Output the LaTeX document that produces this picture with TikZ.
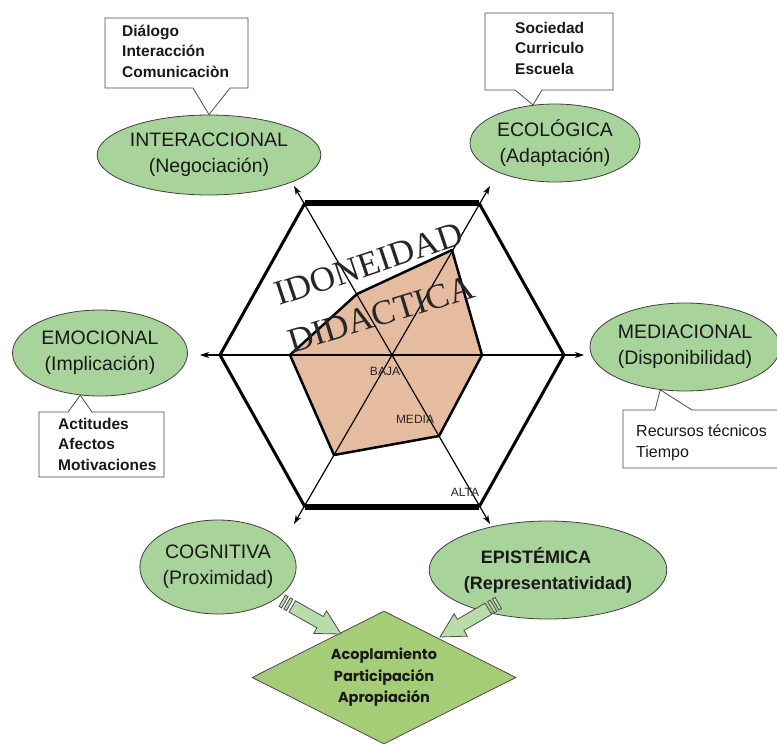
\documentclass[tikz,border=0pt]{standalone}
\usepackage{fontspec}
\setmainfont{Liberation Sans}
\newfontfamily\serifont{Liberation Serif}
\newfontfamily\popfont{Poppins}
\usetikzlibrary{shapes.geometric,arrows.meta,calc}
\definecolor{ellgreen}{RGB}{168,212,155}
\definecolor{diagreen}{RGB}{165,205,120}
\definecolor{tanfill}{RGB}{230,188,160}
\definecolor{arrgreen}{RGB}{185,221,168}
\definecolor{ink}{RGB}{25,25,25}
\begin{document}
\begin{tikzpicture}[x=1pt,y=-1pt,
  ell/.style={ellipse, draw=black!75, line width=0.8pt, fill=ellgreen, inner sep=0pt,
    align=center, text=ink, font=\fontsize{19.5}{26}\selectfont},
  callout/.style={draw=black!70, line width=0.8pt, fill=white},
  boxtext/.style={align=left, anchor=west, inner sep=0pt, text=ink,
    font=\bfseries\fontsize{15.5}{20.5}\selectfont},
  axisline/.style={line width=1.2pt, {Stealth[length=9pt,width=6pt]}-{Stealth[length=9pt,width=6pt]}},
  hexside/.style={line width=3pt, line join=round},
  hexbar/.style={line width=5.5pt},
  lvl/.style={font=\fontsize{12}{12}\selectfont, text=black!85, inner sep=0pt},
  bigtitle/.style={font=\serifont\fontsize{35}{35}\selectfont, text=black!85, inner sep=0pt},
  barrow/.style={fill=arrgreen, draw=black!70, line width=0.8pt, line join=miter}
]
\useasboundingbox (0,0) rectangle (777,745);
\clip (0,0) rectangle (777,745);

% centre and hexagon vertices
\coordinate (O) at (392,355);
\coordinate (h1) at (305,203);
\coordinate (h2) at (479,203);
\coordinate (h3) at (564,355);
\coordinate (h4) at (479,507);
\coordinate (h5) at (305,507);
\coordinate (h6) at (220,355);

% profile polygon
\coordinate (p1) at (290,355);
\coordinate (p2) at (357,294);
\coordinate (p3) at (452,250);
\coordinate (p4) at (482,355);
\coordinate (p5) at (439,436);
\coordinate (p6) at (334,455);
\filldraw[fill=tanfill, draw=black, line width=2.5pt, line join=round]
  (p1) -- (p2) -- (p3) -- (p4) -- (p5) -- (p6) -- cycle;

% hexagon
\draw[hexside] (h2) -- (h3) -- (h4);
\draw[hexside] (h5) -- (h6) -- (h1);
\draw[hexbar] (h1) -- (h2);
\draw[hexbar] (h4) -- (h5);

% axes
\coordinate (aL) at (200,355);
\coordinate (aR) at (584,355);
\coordinate (aTL) at (294,186);
\coordinate (aBR) at (490,524);
\coordinate (aTR) at (490,186);
\coordinate (aBL) at (294,524);
\draw[axisline] (aL) -- (aR);
\draw[axisline] (aTL) -- (aBR);
\draw[axisline] (aTR) -- (aBL);

% level labels
\node[lvl] (baja) at (385,371) {BAJA};
\node[lvl] (media) at (415,419) {MEDIA};
\node[lvl] (alta) at (465,492) {ALTA};

% title
\node[bigtitle, rotate=18.5] (t1) at (369,264) {IDONEIDAD};
\node[bigtitle, rotate=17] (t2) at (381,314) {DIDACTICA};

% ellipses
\node[ell, minimum width=174pt, minimum height=80pt] (inter) at (209,155) {INTERACCIONAL\\(Negociación)};
\node[ell, minimum width=170pt, minimum height=78pt] (eco) at (555,143) {ECOLÓGICA\\(Adaptación)};
\node[ell, minimum width=175pt, minimum height=86pt] (emo) at (100,353) {EMOCIONAL\\(Implicación)};
\node[ell, minimum width=176pt, minimum height=88pt] (med) at (685,347) {MEDIACIONAL\\(Disponibilidad)};
\node[ell, minimum width=152pt, minimum height=94pt] (cog) at (218,567) {COGNITIVA\\(Proximidad)};
\node[ell, minimum width=186pt, minimum height=98pt, align=left,
  font=\bfseries\fontsize{18}{26}\selectfont] (epi) at (548,570)
  {\hspace*{17pt}EPISTÉMICA\\(Representatividad)};

% callouts
\draw[callout] (105,18) -- (248,18) -- (248,88) -- (230,88) -- (inter.north) -- (193,88) -- (105,88) -- cycle;
\node[boxtext] (tA) at (122,51) {Diálogo\\Interacción\\Comunicaciòn};

\draw[callout] (485,13) -- (613,13) -- (613,90) -- (542,90) -- (eco.120) -- (515,90) -- (485,90) -- cycle;
\node[boxtext] (tB) at (515,48) {Sociedad\\Curriculo\\Escuela};

\draw[callout] (39,412) -- (68,412) -- (emo.245) -- (92,412) -- (164,412) -- (164,477) -- (39,477) -- cycle;
\node[boxtext] (tC) at (58,444) {Actitudes\\Afectos\\Motivaciones};

\draw[callout] (623,410) -- (655,410) -- (med.240) -- (692,410) -- (790,410) -- (790,468) -- (623,468) -- cycle;
\node[boxtext, font=\fontsize{16}{20.5}\selectfont] (tD) at (636,443) {Recursos técnicos\\Tiempo};

% diamond
\node[diamond, aspect=2, minimum width=264pt, minimum height=133pt, inner sep=0pt,
  fill=diagreen, draw=black!70, line width=0.8pt, align=center, text=ink,
  font=\popfont\bfseries\fontsize{14.5}{21.5}\selectfont] (dia) at (384,677.5)
  {Acoplamiento\\Participación\\Apropiación};

% block arrows
\coordinate (lat) at (280,600);
\coordinate (lah) at (341,634);
\coordinate (rat) at (500,602);
\coordinate (rah) at (440,637);
\begin{scope}[shift={(lah)}, rotate=-29.5]
  \filldraw[barrow] (0,0) -- (-24,-13) -- (-24,-6.5) -- (-56,-6.5) -- (-56,6.5) -- (-24,6.5) -- (-24,13) -- cycle;
  \filldraw[barrow] (-59,-6.5) rectangle (-62,6.5);
  \filldraw[barrow] (-64.5,-6.5) rectangle (-67.5,6.5);
\end{scope}
\begin{scope}[shift={(rah)}, rotate=-149.7]
  \filldraw[barrow] (0,0) -- (-24,-13) -- (-24,-6.5) -- (-56,-6.5) -- (-56,6.5) -- (-24,6.5) -- (-24,13) -- cycle;
  \filldraw[barrow] (-59,-6.5) rectangle (-62,6.5);
  \filldraw[barrow] (-64.5,-6.5) rectangle (-67.5,6.5);
\end{scope}
\end{tikzpicture}
\end{document}
